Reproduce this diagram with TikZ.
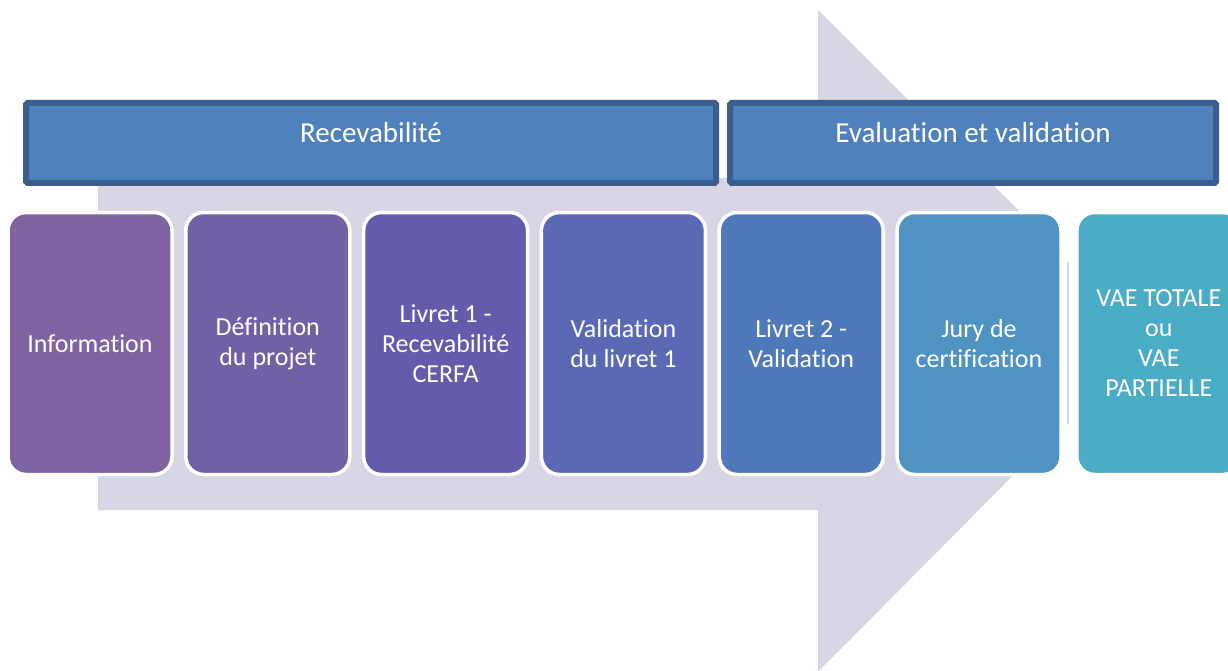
\documentclass[tikz,border=0pt]{standalone}
\usepackage{fontspec}
\setmainfont{Carlito}[Ligatures=NoCommon]
\definecolor{arrowc}{HTML}{D8D5E4}
\definecolor{hdrfill}{HTML}{4F81BD}
\definecolor{hdrline}{HTML}{3A5F8E}
\definecolor{cA}{HTML}{8064A2}
\definecolor{cB}{HTML}{7260A6}
\definecolor{cC}{HTML}{635BAB}
\definecolor{cD}{HTML}{5A69B3}
\definecolor{cE}{HTML}{5079BB}
\definecolor{cF}{HTML}{4F93C3}
\definecolor{cG}{HTML}{4BACC6}
\begin{document}
\begin{tikzpicture}[x=1pt,y=-1pt,
  hdr/.style={draw=hdrline,fill=hdrfill,line width=6pt,rounded corners=1.5pt},
  hdrtext/.style={text=white,font=\fontsize{29}{34}\selectfont,anchor=base,inner sep=0pt},
  stepbox/.style={draw=white,line width=3.5pt,rounded corners=18pt,minimum width=164pt,minimum height=262pt,
    text=white,align=center,font=\fontsize{26}{30}\selectfont,inner sep=0pt}]
\useasboundingbox (0,0) rectangle (1228,671);
% background arrow
\fill[arrowc] (98,178) -- (818,178) -- (818,10) -- (1063,255) -- (1063,425) -- (818,672) -- (818,510) -- (98,510) -- cycle;
\fill[arrowc] (1067,262) rectangle (1069,424);
% headers
\draw[hdr] (26,103) rectangle (716,183);
\draw[hdr] (730,103) rectangle (1216,183);
\node[hdrtext] (h1) at (371,143) {Recevabilité};
\node[hdrtext] (h2) at (973,143) {Evaluation et validation};
% steps
\node[stepbox,fill=cA] (s1) at (90,343.5) {Information};
\node[stepbox,fill=cB] (s2) at (267.8,343.5) {Définition\\du projet};
\node[stepbox,fill=cC] (s3) at (445.6,343.5) {Livret 1 -\\Recevabilité\\CERFA};
\node[stepbox,fill=cD] (s4) at (623.4,343.5) {Validation\\du livret 1};
\node[stepbox,fill=cE] (s5) at (801.2,343.5) {Livret 2 -\\Validation};
\node[stepbox,fill=cF] (s6) at (979,343.5) {Jury de\\certification};
\node[stepbox,fill=cG] (s7) at (1158.8,343.5) {VAE TOTALE\\ou\\VAE\\PARTIELLE};
\end{tikzpicture}
\end{document}
